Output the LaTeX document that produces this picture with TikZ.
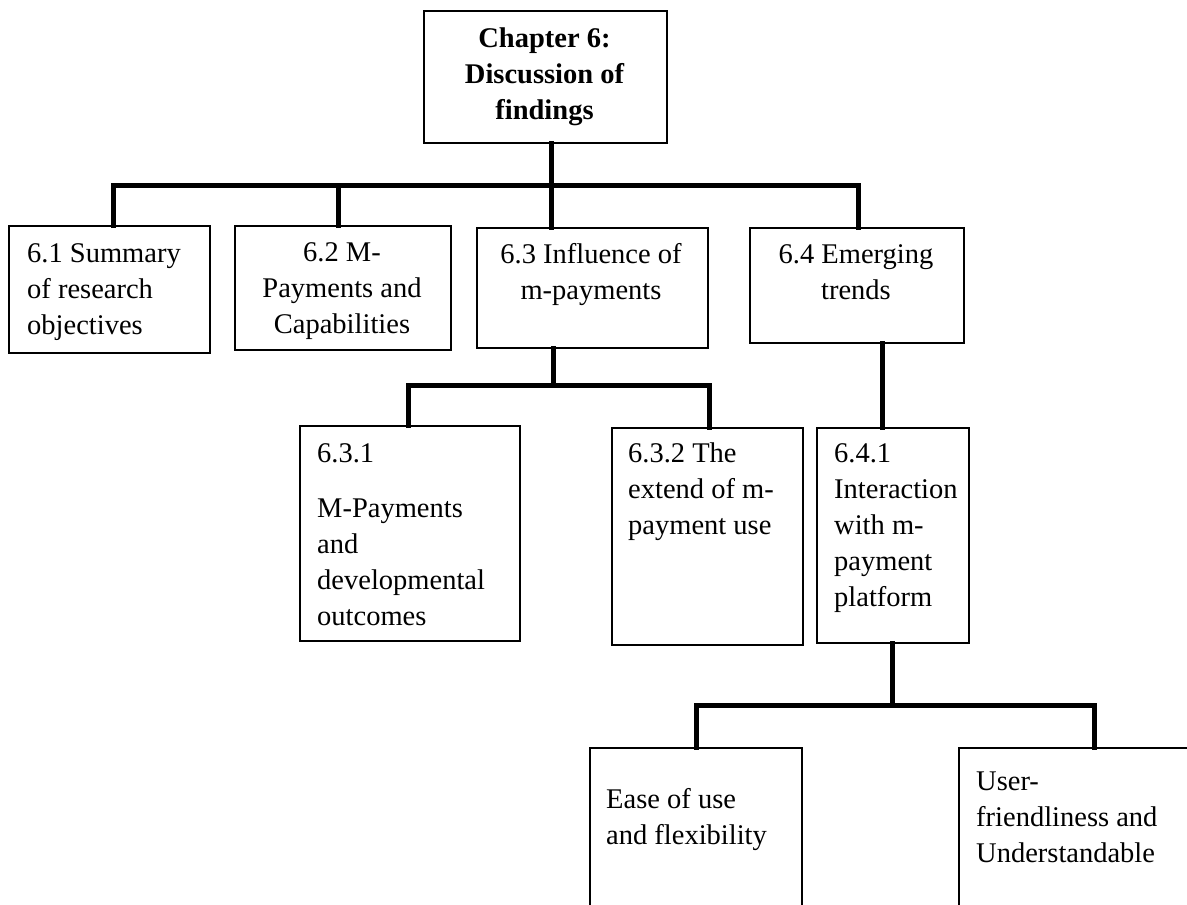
\documentclass[tikz,border=0pt]{standalone}
\usepackage{fontspec}
\setmainfont{Liberation Serif}
% stacked lines, first baseline is the box baseline
\newcommand\leftlines[1]{\vtop{\halign{##\hfil\cr#1\crcr}}}
\newcommand\midlines[1]{\vtop{\halign{\hfil##\hfil\cr#1\crcr}}}
\tikzset{
  box/.style={draw=black, line width=1.6pt, rectangle, inner sep=0pt, anchor=north west},
  txt/.style={inner sep=0pt, font=\fontsize{28.5}{36}\selectfont, text=black},
  conn/.style={draw=black, line width=5pt, line join=miter, line cap=rect}
}
\begin{document}
\begin{tikzpicture}[x=1pt,y=-1pt]
\useasboundingbox (0,0) rectangle (1187,905);
\fill[white] (0,0) rectangle (1187,905);
\begin{scope}
\clip (0,0) rectangle (1187,905);

% boxes
\node[box, minimum width=243pt, minimum height=132pt] (root) at (423,10) {};
\node[box, minimum width=201pt, minimum height=127pt] (s61) at (8,225) {};
\node[box, minimum width=216pt, minimum height=124pt] (s62) at (234,225) {};
\node[box, minimum width=231pt, minimum height=120pt] (s63) at (476,227) {};
\node[box, minimum width=214pt, minimum height=115pt] (s64) at (749,227) {};
\node[box, minimum width=220pt, minimum height=215pt] (s631) at (299,425) {};
\node[box, minimum width=191pt, minimum height=217pt] (s632) at (611,427) {};
\node[box, minimum width=152pt, minimum height=215pt] (s641) at (816,427) {};
\node[box, minimum width=212pt, minimum height=180pt] (ease) at (589,747) {};
\node[box, minimum width=250pt, minimum height=180pt] (user) at (958,747) {};

% labels
\node[txt, anchor=base] (troot) at (544.5,47) {\bfseries\midlines{Chapter 6:\cr Discussion of\cr findings}};
\node[txt, anchor=base west] (t61) at (27,262) {\leftlines{6.1 Summary\cr of research\cr objectives}};
\node[txt, anchor=base] (t62) at (342,261) {\midlines{6.2 M-\cr Payments and\cr Capabilities}};
\node[txt, anchor=base] (t63) at (591,263) {\midlines{6.3 Influence of\cr m-payments}};
\node[txt, anchor=base] (t64) at (856,263) {\midlines{6.4 Emerging\cr trends}};
\node[txt, anchor=base west] (t631) at (317,462) {\leftlines{6.3.1\cr\noalign{\vskip19pt}M-Payments\cr and\cr developmental\cr outcomes}};
\node[txt, anchor=base west] (t632) at (628,462) {\leftlines{6.3.2 The\cr extend of m-\cr payment use}};
\node[txt, anchor=base west] (t641) at (834,462) {\leftlines{6.4.1\cr Interaction\cr with m-\cr payment\cr platform}};
\node[txt, anchor=base west] (tease) at (606,808) {\leftlines{Ease of use\cr and flexibility}};
\node[txt, anchor=base west] (tuser) at (976,790) {\leftlines{User-\cr friendliness and\cr Understandable}};

% junction points of the connector buses
\coordinate (j0) at (551,185);
\coordinate (j61) at (113,185);
\coordinate (j62) at (338,185);
\coordinate (j64) at (858,185);
\coordinate (k0) at (553,385);
\coordinate (k631) at (408,385);
\coordinate (k632) at (709,385);
\coordinate (m64) at (882,385);
\coordinate (n0) at (892,705);
\coordinate (nease) at (696,705);
\coordinate (nuser) at (1094,705);

% first level
\draw[conn] (root.south -| j0) -- (j0);
\draw[conn] (j61 |- s61.north) -- (j61) -- (j64) -- (j64 |- s64.north);
\draw[conn] (j62) -- (j62 |- s62.north);
\draw[conn] (j0) -- (j0 |- s63.north);

% second level
\draw[conn] (s63.south -| k0) -- (k0);
\draw[conn] (k631 |- s631.north) -- (k631) -- (k632) -- (k632 |- s632.north);
\draw[conn] (s64.south -| m64) -- (s641.north -| m64);

% third level
\draw[conn] (s641.south -| n0) -- (n0);
\draw[conn] (nease |- ease.north) -- (nease) -- (nuser) -- (nuser |- user.north);
\end{scope}
\end{tikzpicture}
\end{document}
